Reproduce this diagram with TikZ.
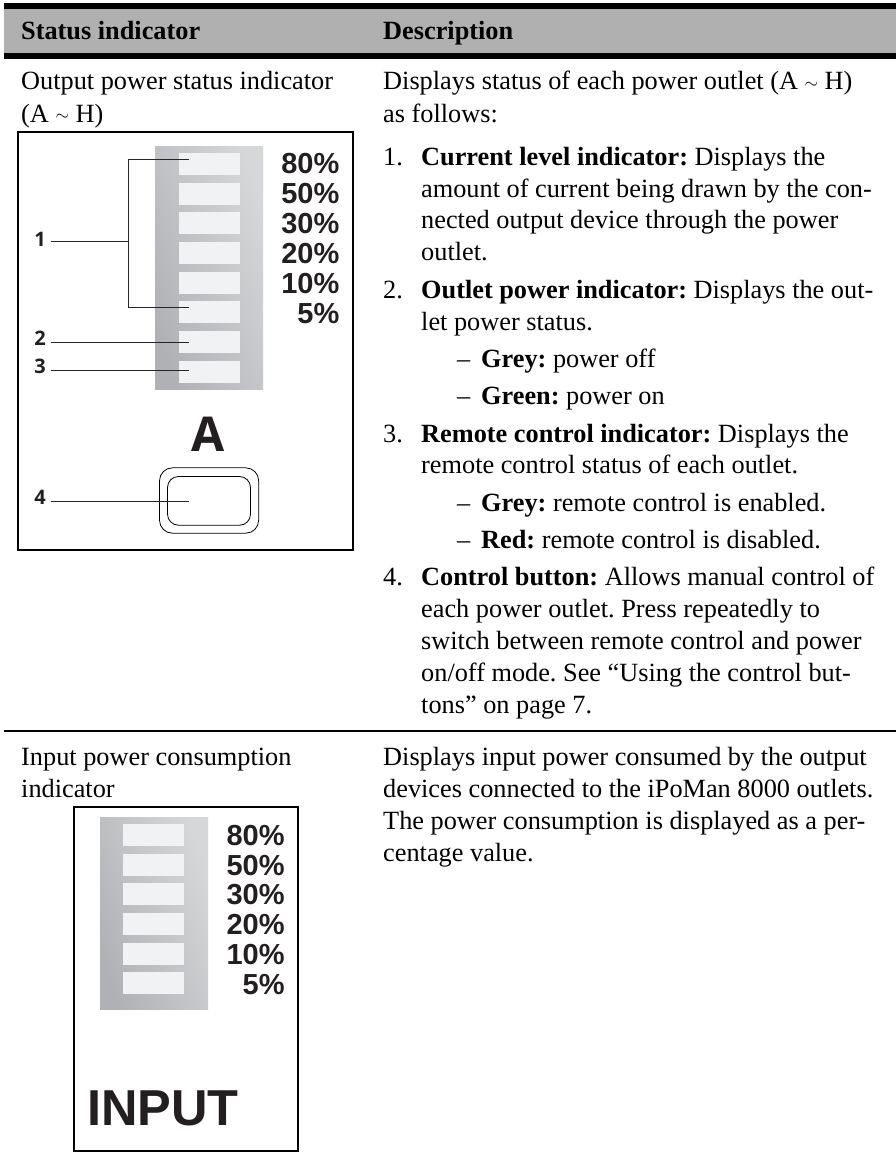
\documentclass[tikz,border=0pt]{standalone}
\usepackage{fontspec}
\setmainfont{Liberation Serif}
\newfontfamily\lsans{Liberation Sans}
\newfontfamily\osans{Open Sans}
\newcommand{\tld}{\raisebox{1.5pt}{\fontsize{19}{19}\selectfont$\sim$}}
\definecolor{pdark}{HTML}{B0B1B4}
\definecolor{plight}{HTML}{D6D7D9}
\definecolor{ledc}{HTML}{F1F2F4}
\definecolor{ink}{HTML}{231F20}
\begin{document}
\frenchspacing
\begin{tikzpicture}[x=1pt,y=-1pt,
  txt/.style={anchor=base west,inner sep=0pt,font=\fontsize{26.3}{30}\selectfont},
  btxt/.style={txt,font=\fontsize{26.3}{30}\selectfont\bfseries},
  pct/.style={anchor=base east,inner sep=0pt,font=\fontsize{29}{30}\selectfont\lsans\bfseries,text=ink},
  callout/.style={anchor=base,inner sep=0pt,font=\fontsize{20}{20}\selectfont\osans\bfseries,text=ink},
  lead/.style={draw=black!85,line width=0.8pt},
  frame/.style={draw=black,line width=1.6pt,fill=white},
  led/.style={fill=ledc,draw=none},
  panel/.style={left color=pdark,right color=plight,shading angle=110},
  sep/.style={draw=black,line width=1.6pt}]
\useasboundingbox (0,0) rectangle (896,1153);
\fill[white] (0,0) rectangle (896,1153);
% header
\fill[black!31] (4,8) rectangle (896,54);
\fill[black] (4,3.3) rectangle (896,9);
\fill[black] (4,53) rectangle (896,59);
\node[btxt] (h1) at (21,39.5) {Status indicator};
\node[btxt] (h2) at (383,39.5) {Description};
% left texts
\node[txt] (l1) at (21,90) {Output power status indicator};
\node[txt] (l2) at (21,122) {(A \tld{} H)};
% frame 1
\draw[frame] (17.8,132) rectangle (353,549.7);
\shade[panel] (155,146) rectangle (263,389.5);
\foreach \y in {153,183,212,242,272,301,331,361}{\fill[led] (179,\y) rectangle (240,\y+22);}
\foreach \t/\y in {80\%/173.5,50\%/203.5,30\%/233,20\%/263,10\%/293,5\%/323.5}{\node[pct] at (339.5,\y) {\t};}
\node[callout] (c1) at (40,246) {1};
\node[callout] (c2) at (40,345) {2};
\node[callout] (c3) at (40,373) {3};
\node[callout] (c4) at (40,504) {4};
\coordinate (s1) at (50.5,241.7); \coordinate (j1) at (128.7,241.7);
\coordinate (t1) at (188.5,159.5); \coordinate (b1) at (188.5,307);
\coordinate (s2) at (50.5,342); \coordinate (e2) at (188.5,342);
\coordinate (s3) at (50.5,370); \coordinate (e3) at (188.5,370);
\coordinate (s4) at (50.5,501.3); \coordinate (e4) at (188.5,501.3);
\draw[lead] (s1) -- (j1);
\draw[lead] (t1) -- (j1 |- t1) -- (j1 |- b1) -- (b1);
\draw[lead] (s2) -- (e2);
\draw[lead] (s3) -- (e3);
\node[anchor=base,inner sep=0pt,font=\fontsize{48}{50}\selectfont\osans\bfseries,text=ink] (A) at (208.5,451.7) {A};
\draw[line width=0.8pt,rounded corners=13pt] (159.5,467.8) rectangle (258.7,533.2);
\draw[line width=0.8pt,rounded corners=11pt] (167.5,476.5) rectangle (250.5,525.2);
\draw[lead] (s4) -- (e4);
% divider
\draw[sep] (4,731) -- (896,731);
% text right
\node[txt] at (383,90) {Displays status of each power outlet (A \tld{} H)};
\node[txt] at (383,122) {as follows:};
\node[txt] at (383,165) {1.};
\node[txt] at (421,165) {\textbf{Current level indicator:} Displays the};
\node[txt] at (421,197) {amount of current being drawn by the con-};
\node[txt] at (421,228.5) {nected output device through the power};
\node[txt] at (421,260.5) {outlet.};
\node[txt] at (383,298) {2.};
\node[txt] at (421,298) {\textbf{Outlet power indicator:} Displays the out-};
\node[txt] at (421,330) {let power status.};
\node[txt] at (457,367.5) {--};
\node[txt] at (481,367.5) {\textbf{Grey:} power off};
\node[txt] at (457,404.5) {--};
\node[txt] at (481,404.5) {\textbf{Green:} power on};
\node[txt] at (383,442) {3.};
\node[txt] at (421,442) {\textbf{Remote control indicator:} Displays the};
\node[txt] at (421,473.5) {remote control status of each outlet.};
\node[txt] at (457,511) {--};
\node[txt] at (481,511) {\textbf{Grey:} remote control is enabled.};
\node[txt] at (457,548) {--};
\node[txt] at (481,548) {\textbf{Red:} remote control is disabled.};
\node[txt] at (383,585.5) {4.};
\node[txt] at (421,585.5) {\textbf{Control button:} Allows manual control of};
\node[txt] at (421,617.5) {each power outlet. Press repeatedly to};
\node[txt] at (421,649.5) {switch between remote control and power};
\node[txt] at (421,681.5) {on/off mode. See ``Using the control but-};
\node[txt] at (421,713.5) {tons'' on page 7.};
\node[txt] at (21,765) {Input power consumption};
\node[txt] at (21,797) {indicator};
\node[txt] at (383,765) {Displays input power consumed by the output};
\node[txt] at (383,797) {devices connected to the iPoMan 8000 outlets.};
\node[txt] at (383,829) {The power consumption is displayed as a per-};
\node[txt] at (383,861) {centage value.};
% frame 2
\draw[frame] (73.7,807) rectangle (297.7,1150.7);
\shade[panel] (100,817) rectangle (208,1009.7);
\foreach \y in {824,854,883,913,943,972}{\fill[led] (123,\y) rectangle (184,\y+22);}
\foreach \t/\y in {80\%/845,50\%/875,30\%/904.5,20\%/934.5,10\%/964.5,5\%/994.5}{\node[pct] at (284.8,\y) {\t};}
\node[anchor=base west,inner sep=0pt,font=\fontsize{50.5}{50}\selectfont\lsans\bfseries,text=ink] (inp) at (87,1125) {INPUT};
\end{tikzpicture}
\end{document}
